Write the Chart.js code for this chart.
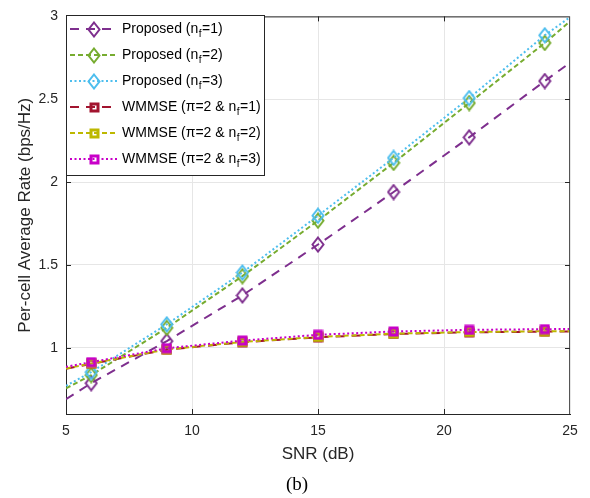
<!DOCTYPE html>
<html><head><meta charset="utf-8">
<script src="https://cdn.jsdelivr.net/npm/chart.js@4/dist/chart.umd.min.js"></script>
<style>html,body{margin:0;padding:0;background:#fff}#wrap{width:590px;height:498px;position:relative}</style>
</head><body><div id="wrap"><canvas id="c" width="590" height="498"></canvas></div>
<script>
// ---- data ----
const snrLine = [5, 6, 9, 12, 15, 18, 21, 24, 25];
const markerSnr = [6, 9, 12, 15, 18, 21, 24];
const proposedNf1 = [0.69, 0.786, 1.04, 1.316, 1.623, 1.94, 2.27, 2.61, 2.72];
const proposedNf2 = [0.755, 0.835, 1.12, 1.432, 1.767, 2.116, 2.477, 2.84, 2.97];
const proposedNf3 = [0.77, 0.853, 1.141, 1.454, 1.797, 2.146, 2.507, 2.886, 2.995];
const wmmseNf1 = [0.873, 0.903, 0.988, 1.033, 1.063, 1.083, 1.093, 1.097, 1.098];
const wmmseNf2 = [0.875, 0.905, 0.99, 1.035, 1.065, 1.085, 1.095, 1.10, 1.10];
const wmmseNf3 = [0.885, 0.913, 0.997, 1.043, 1.078, 1.098, 1.108, 1.112, 1.113];
const xTicks = [5, 10, 15, 20, 25];
const yTicks = [1, 1.5, 2, 2.5, 3];
const seriesLabels = [
  ['Proposed (n', 'f', '=1)'],
  ['Proposed (n', 'f', '=2)'],
  ['Proposed (n', 'f', '=3)'],
  ['WMMSE (\u03C0=2 & n', 'f', '=1)'],
  ['WMMSE (\u03C0=2 & n', 'f', '=2)'],
  ['WMMSE (\u03C0=2 & n', 'f', '=3)']
];
const seriesValues = [proposedNf1, proposedNf2, proposedNf3, wmmseNf1, wmmseNf2, wmmseNf3];

// ---- styles ----
const colors = ['#7E2F8E', '#77AC30', '#4DBEEE', '#A2142F', '#BDB800', '#C800C8'];
const dashes = [[9, 7], [5, 3], [2, 2.5], [9, 7], [5, 3], [2, 2.5]];
const markerKinds = ['diamond', 'diamond', 'diamond', 'square', 'square', 'square'];

function makeMarker(kind, color) {
  const c = document.createElement('canvas');
  if (kind === 'diamond') {
    c.width = 14; c.height = 17;
    const g = c.getContext('2d');
    g.strokeStyle = color; g.lineWidth = 2;
    g.beginPath(); g.moveTo(7, 1.5); g.lineTo(12.5, 8.5); g.lineTo(7, 15.5); g.lineTo(1.5, 8.5); g.closePath(); g.stroke();
  } else {
    c.width = 11; c.height = 11;
    const g = c.getContext('2d');
    g.strokeStyle = color; g.lineWidth = 3;
    g.strokeRect(2, 2, 7, 7);
  }
  return c;
}
const markers = colors.map((col, i) => makeMarker(markerKinds[i], col));

const datasets = seriesValues.map((vals, i) => ({
  label: seriesLabels[i].join(''),
  data: snrLine.map((x, k) => ({x: x, y: vals[k]})),
  borderColor: colors[i],
  backgroundColor: 'transparent',
  borderWidth: 2,
  borderDash: dashes[i],
  tension: 0,
  fill: false,
  order: 6 - i,
  pointStyle: markers[i],
  pointRadius: (ctx) => markerSnr.includes(snrLine[ctx.dataIndex]) ? 5 : 0,
  pointHoverRadius: 0
}));

const AX = '#262626';
const SANS = '"Liberation Sans", Arial, sans-serif';
const boxPlugin = {
  id: 'box',
  afterDraw(chart) {
    const {ctx, chartArea: a} = chart;
    const xs = chart.scales.x, ys = chart.scales.y;
    ctx.save();
    ctx.strokeStyle = AX; ctx.lineWidth = 1; ctx.setLineDash([]);
    ctx.beginPath();
    ctx.moveTo(a.left + 0.5, a.top + 0.5); ctx.lineTo(a.right - 0.5, a.top + 0.5);
    ctx.stroke();
    ctx.strokeStyle = '#555';
    ctx.beginPath();
    ctx.moveTo(a.right - 0.5, a.top); ctx.lineTo(a.right - 0.5, a.bottom);
    ctx.stroke();
    ctx.strokeStyle = AX;
    ctx.beginPath();
    xTicks.slice(1, -1).forEach(v => {
      const px = Math.round(xs.getPixelForValue(v)) + 0.5;
      ctx.moveTo(px, a.bottom); ctx.lineTo(px, a.bottom - 5);
      ctx.moveTo(px, a.top); ctx.lineTo(px, a.top + 5);
    });
    yTicks.slice(0, -1).forEach(v => {
      const py = Math.round(ys.getPixelForValue(v)) + 0.5;
      ctx.moveTo(a.left, py); ctx.lineTo(a.left + 5, py);
      ctx.moveTo(a.right, py); ctx.lineTo(a.right - 5, py);
    });
    ctx.stroke();

    // legend
    const L = 66.5, T = 15.5, R = 264.5, B = 175.5;
    ctx.fillStyle = '#fff'; ctx.fillRect(L, T, R - L, B - T);
    ctx.strokeStyle = AX; ctx.lineWidth = 1; ctx.strokeRect(L, T, R - L, B - T);
    chart.data.datasets.forEach((ds, i) => {
      const y = 29 + i * 26;
      ctx.save();
      ctx.strokeStyle = colors[i]; ctx.lineWidth = 2; ctx.setLineDash(dashes[i]);
      ctx.beginPath(); ctx.moveTo(70, y); ctx.lineTo(118, y); ctx.stroke();
      ctx.restore();
      const m = markers[i];
      ctx.drawImage(m, Math.round(94 - m.width / 2), Math.round(y - m.height / 2));
      const parts = seriesLabels[i];
      ctx.fillStyle = '#000'; ctx.textBaseline = 'middle'; ctx.textAlign = 'left';
      ctx.font = '14px ' + SANS;
      let x = 122;
      ctx.fillText(parts[0], x, y); x += ctx.measureText(parts[0]).width;
      ctx.font = '10px ' + SANS;
      ctx.fillText(parts[1], x + 0.5, y + 5); x += ctx.measureText(parts[1]).width + 1;
      ctx.font = '14px ' + SANS;
      ctx.fillText(parts[2], x, y);
    });

    // caption
    ctx.fillStyle = '#000'; ctx.textAlign = 'center'; ctx.textBaseline = 'middle';
    ctx.font = '19px "Liberation Serif", "Times New Roman", serif';
    ctx.fillText('(b)', 297, 485);
    ctx.restore();
  }
};

const tickFont = {family: SANS, size: 14};
const titleFont = {family: SANS, size: 17};

new Chart(document.getElementById('c'), {
  type: 'line',
  data: {datasets},
  options: {
    responsive: false, animation: false, devicePixelRatio: 1,
    layout: {padding: {left: 0, right: 20, top: 15, bottom: 33}},
    plugins: {legend: {display: false}, tooltip: {enabled: false}},
    events: [],
    scales: {
      x: {
        type: 'linear', min: 5, max: 25,
        afterBuildTicks: s => { s.ticks = xTicks.map(v => ({value: v})); },
        afterFit: s => { s.height = 51; },
        grid: {color: '#e6e6e6', drawTicks: false},
        border: {color: AX},
        ticks: {padding: 9, color: AX, font: tickFont, maxRotation: 0, autoSkip: false, callback: v => String(v)},
        title: {display: true, text: 'SNR (dB)', color: AX, font: titleFont, padding: {top: 0, bottom: 0}}
      },
      y: {
        type: 'linear', min: 0.6, max: 3,
        afterBuildTicks: s => { s.ticks = yTicks.map(v => ({value: v})); },
        afterFit: s => { s.width = 66; },
        grid: {color: '#e6e6e6', drawTicks: false},
        border: {color: AX},
        ticks: {padding: 8, color: AX, font: tickFont, autoSkip: false, callback: v => String(v)},
        title: {display: true, text: 'Per-cell Average Rate (bps/Hz)', color: AX, font: titleFont, padding: {top: 15, bottom: 0}}
      }
    }
  },
  plugins: [boxPlugin]
});
</script>
</body></html>
